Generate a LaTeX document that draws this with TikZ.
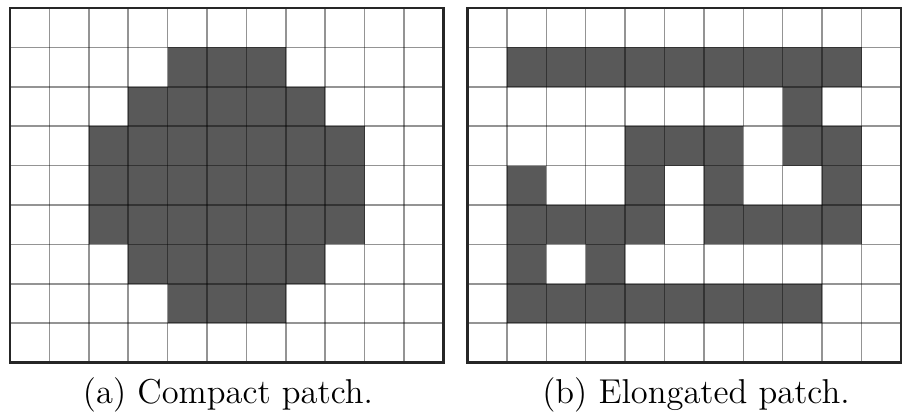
\documentclass[tikz,border=0pt]{standalone}
\usepackage{tikz}
\definecolor{cellfill}{HTML}{595959}
\tikzset{
  cell/.style={fill=cellfill},
  gridline/.style={draw=black, draw opacity=0.42, line width=0.5pt},
  border/.style={draw=black!85, line width=0.8pt},
  caption/.style={font=\fontsize{11.5}{14}\selectfont, inner sep=0pt, anchor=base}
}
\begin{document}
\begin{tikzpicture}[x=0.3333pt,y=-0.3333pt]
\useasboundingbox (0,0) rectangle (902,420);
\def\cs{39.4}
% left grid
\foreach \c/\r in {4/1,5/1,6/1,
  3/2,4/2,5/2,6/2,7/2,
  2/3,3/3,4/3,5/3,6/3,7/3,8/3,
  2/4,3/4,4/4,5/4,6/4,7/4,8/4,
  2/5,3/5,4/5,5/5,6/5,7/5,8/5,
  3/6,4/6,5/6,6/6,7/6,
  4/7,5/7,6/7}
  \fill[cell] ({10+\c*\cs},{8+\r*\cs}) rectangle +(\cs,\cs);
\foreach \i in {1,...,10}
  \draw[gridline] ({10+\i*\cs},8) -- ++(0,{9*\cs});
\foreach \j in {1,...,8}
  \draw[gridline] (10,{8+\j*\cs}) -- ++({11*\cs},0);
\draw[border] (10,8) rectangle ++({11*\cs},{9*\cs});
% right grid
\foreach \c/\r in {1/1,2/1,3/1,4/1,5/1,6/1,7/1,8/1,9/1,
  8/2,
  4/3,5/3,6/3,8/3,9/3,
  1/4,4/4,6/4,9/4,
  1/5,2/5,3/5,4/5,6/5,7/5,8/5,9/5,
  1/6,3/6,
  1/7,2/7,3/7,4/7,5/7,6/7,7/7,8/7}
  \fill[cell] ({467.5+\c*\cs},{8+\r*\cs}) rectangle +(\cs,\cs);
\foreach \i in {1,...,10}
  \draw[gridline] ({467.5+\i*\cs},8) -- ++(0,{9*\cs});
\foreach \j in {1,...,8}
  \draw[gridline] (467.5,{8+\j*\cs}) -- ++({11*\cs},0);
\draw[border] (467.5,8) rectangle ++({11*\cs},{9*\cs});
% captions
\node[caption] (capa) at (228,403) {(a) Compact patch.};
\node[caption] (capb) at (696,403) {(b) Elongated patch.};
\end{tikzpicture}
\end{document}
